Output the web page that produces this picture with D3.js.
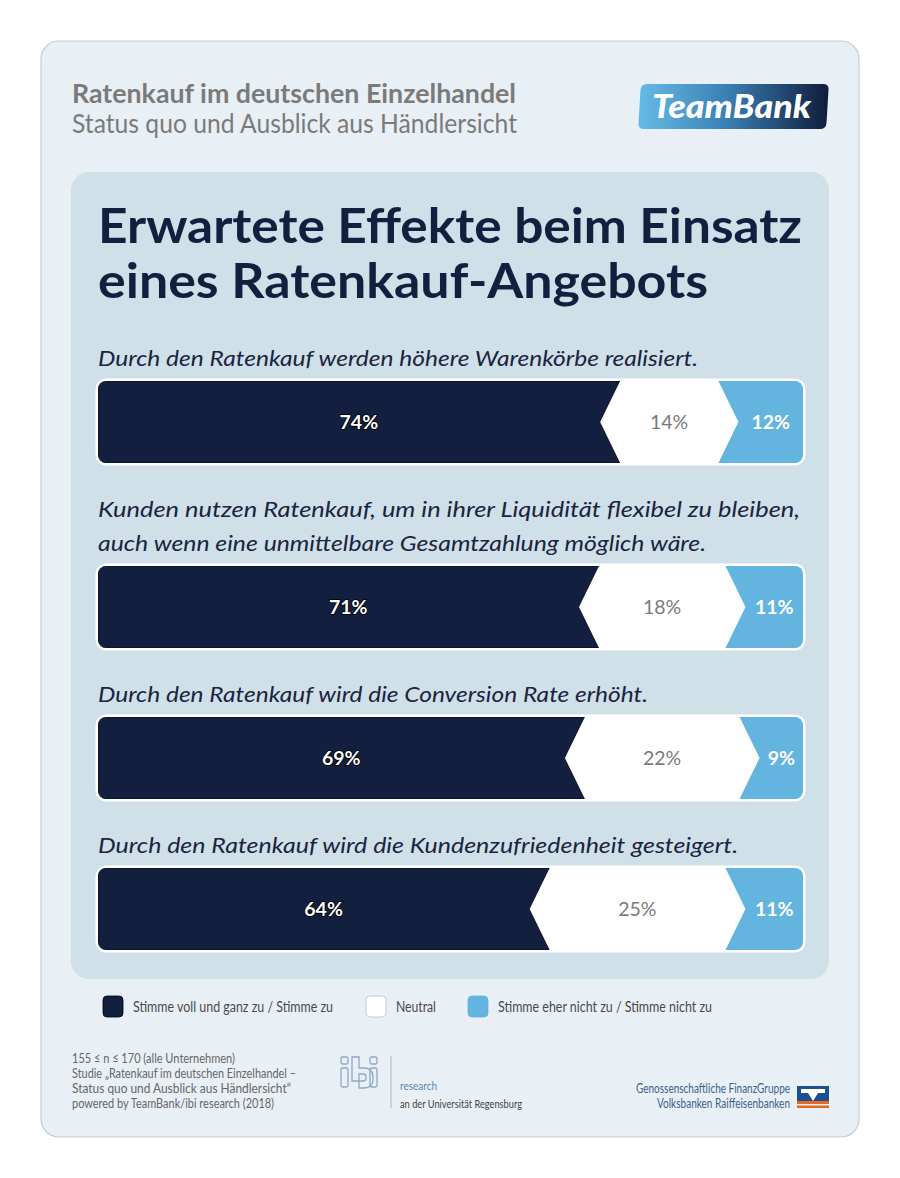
<!DOCTYPE html>
<html>
<head>
<meta charset="utf-8">
<script src="https://cdn.jsdelivr.net/npm/d3@7"></script>
<style>
  body { margin: 0; background: #fff; }
  svg { display: block; }
</style>
</head>
<body>
<div id="chart"></div>
<script>
// Werte aus der Grafik (Prozent)
const questions = [
  ["Durch den Ratenkauf werden höhere Warenkörbe realisiert."],
  ["Kunden nutzen Ratenkauf, um in ihrer Liquidität flexibel zu bleiben,",
   "auch wenn eine unmittelbare Gesamtzahlung möglich wäre."],
  ["Durch den Ratenkauf wird die Conversion Rate erhöht."],
  ["Durch den Ratenkauf wird die Kundenzufriedenheit gesteigert."]
];
const agree = [74, 71, 69, 64];
const neutral = [14, 18, 22, 25];
const disagree = [12, 11, 9, 11];

const legendLabels = ["Stimme voll und ganz zu / Stimme zu", "Neutral", "Stimme eher nicht zu / Stimme nicht zu"];
const titleLines = ["Erwartete Effekte beim Einsatz", "eines Ratenkauf-Angebots"];
const footLines = [
  "155 ≤ n ≤ 170 (alle Unternehmen)",
  "Studie „Ratenkauf im deutschen Einzelhandel –",
  "Status quo und Ausblick aus Händlersicht“",
  "powered by TeamBank/ibi research (2018)"
];

const W = 900, H = 1178;
const navy = "#121f3e", sky = "#63b4df", greyTxt = "#7a7a7a";
const font = "Lato, 'Open Sans', sans-serif";

const svg = d3.select("#chart").append("svg").attr("width", W).attr("height", H);
const defs = svg.append("defs");

// helper: text squeezed to a target width (original uses a condensed face)
function fit(sel, w) {
  sel.each(function () {
    const len = this.getComputedTextLength();
    if (Math.abs(len - w) > 2) {
      d3.select(this).attr("textLength", w).attr("lengthAdjust", "spacingAndGlyphs");
    }
  });
  return sel;
}

// outer card + inner panel
svg.append("rect").attr("x", 41).attr("y", 41).attr("width", 818).attr("height", 1096)
  .attr("rx", 18).attr("fill", "#e9f0f5").attr("stroke", "#c3ced6").attr("stroke-width", 1.2);
svg.append("rect").attr("x", 71).attr("y", 172).attr("width", 758).attr("height", 807)
  .attr("rx", 18).attr("fill", "#cfe0e8");

// header
fit(svg.append("text").attr("x", 72).attr("y", 103).attr("font-family", font)
  .attr("font-weight", 700).attr("font-size", 26.5).attr("fill", greyTxt)
  .text("Ratenkauf im deutschen Einzelhandel"), 444);
fit(svg.append("text").attr("x", 72).attr("y", 133).attr("font-family", font)
  .attr("font-weight", 400).attr("font-size", 26.5).attr("fill", greyTxt)
  .text("Status quo und Ausblick aus Händlersicht"), 445);

// TeamBank logo
const lg = defs.append("linearGradient").attr("id", "tbGrad").attr("x1", "0").attr("x2", "1").attr("y1", "0").attr("y2", "0");
lg.append("stop").attr("offset", "0").attr("stop-color", "#66bbe6");
lg.append("stop").attr("offset", "0.45").attr("stop-color", "#3b82b6");
lg.append("stop").attr("offset", "1").attr("stop-color", "#0f1c3d");
svg.append("path")
  .attr("d", "M647,84 L823,84 Q829,84 828.5,90 L826.5,123 Q826,129 820,129 L644,129 Q638,129 638.5,123 L640.5,90 Q641,84 647,84 Z")
  .attr("fill", "url(#tbGrad)");
fit(svg.append("text").attr("x", 652).attr("y", 118).attr("font-family", font)
  .attr("font-weight", 900).attr("font-style", "italic").attr("font-size", 32).attr("fill", "#fff")
  .text("TeamBank"), 159);

// big title
const titleW = [704, 610];
titleLines.forEach((t, i) => {
  fit(svg.append("text").attr("x", 98).attr("y", 243 + i * 55).attr("font-family", font)
    .attr("font-weight", 700).attr("font-size", 47).attr("fill", navy).text(t), titleW[i]);
});

// bars
const x = d3.scaleLinear().domain([0, 100]).range([98, 803]);
const barH = 82, notch = 20;
const qWidths = [[600], [702, 608], [550], [640]];

let base = 366;
questions.forEach((lines, i) => {
  lines.forEach((ln, j) => {
    fit(svg.append("text").attr("x", 98).attr("y", base + j * 34).attr("font-family", font)
      .attr("font-style", "italic").attr("font-size", 22).attr("fill", "#1b2440").text(ln), qWidths[i][j]);
  });
  base += (lines.length - 1) * 34;
  const top = base + 15, bot = top + barH, mid = top + barH / 2;
  const g = svg.append("g");

  defs.append("clipPath").attr("id", "clip" + i).append("rect")
    .attr("x", x(0)).attr("y", top).attr("width", x(100) - x(0)).attr("height", barH).attr("rx", 8);

  g.append("rect").attr("x", x(0)).attr("y", top).attr("width", x(100) - x(0)).attr("height", barH)
    .attr("rx", 8).attr("fill", "#fff").attr("stroke", "#fff").attr("stroke-width", 5);

  const xa = x(agree[i]), xb = x(100 - disagree[i]);
  const seg = g.append("g").attr("clip-path", `url(#clip${i})`);
  seg.append("polygon")
    .attr("points", [[x(0), top], [xa, top], [xa - notch, mid], [xa, bot], [x(0), bot]].join(" "))
    .attr("fill", navy).attr("stroke", "#05091a").attr("stroke-width", 0.8);
  seg.append("polygon")
    .attr("points", [[xb, top], [x(100), top], [x(100), bot], [xb, bot], [xb + notch, mid]].join(" "))
    .attr("fill", sky);

  const lbl = (cx, v, fill, weight) => g.append("text").attr("x", cx).attr("y", mid + 7)
    .attr("text-anchor", "middle").attr("font-family", font).attr("font-size", 19.5)
    .attr("font-weight", weight).attr("fill", fill).text(v + "%");
  lbl((x(0) + xa) / 2, agree[i], "#fff", 700)
    .attr("stroke", "#000").attr("stroke-width", 1.6).attr("paint-order", "stroke");
  lbl((xa + xb) / 2, neutral[i], greyTxt, 400);
  lbl((xb + notch + x(100)) / 2, disagree[i], "#fff", 700);

  base = bot + 54;
});

// legend
const legX = [103, 366, 468];
const legFill = [navy, "#fff", sky];
const legStroke = ["#000", "#b9c3ca", "#63b4df"];
const legW = [200, 40, 214];
legendLabels.forEach((t, i) => {
  svg.append("rect").attr("x", legX[i]).attr("y", 996).attr("width", 20).attr("height", 21).attr("rx", 4)
    .attr("fill", legFill[i]).attr("stroke", legStroke[i]).attr("stroke-width", 0.8);
  fit(svg.append("text").attr("x", legX[i] + 30).attr("y", 1012).attr("font-family", font)
    .attr("font-size", 14.5).attr("fill", "#4a4a4a").text(t), legW[i]);
});

// footer text
const footW = [163, 224, 219, 202];
footLines.forEach((t, i) => {
  fit(svg.append("text").attr("x", 72).attr("y", 1063 + i * 15).attr("font-family", font)
    .attr("font-size", 12.5).attr("fill", "#666").text(t), footW[i]);
});

// ibi research logo
const ibi = svg.append("g").attr("fill", "none").attr("stroke", "#8ea7c3").attr("stroke-width", 1.3);
ibi.append("rect").attr("x", 341).attr("y", 1057).attr("width", 7).attr("height", 7).attr("rx", 1.5);
ibi.append("rect").attr("x", 341).attr("y", 1068).attr("width", 7).attr("height", 19).attr("rx", 1.5);
ibi.append("path").attr("d", "M352,1057 h7 v11 h5 q9,0 9,9 v2 q0,9 -9,9 h-5 v-7 h4 q3,0 3,-3 v-1 q0,-3 -3,-3 h-4 v7 h-7 z");
ibi.append("rect").attr("x", 370).attr("y", 1057).attr("width", 7).attr("height", 7).attr("rx", 1.5);
ibi.append("rect").attr("x", 370).attr("y", 1068).attr("width", 7).attr("height", 19).attr("rx", 1.5);
svg.append("line").attr("x1", 391).attr("x2", 391).attr("y1", 1056).attr("y2", 1108)
  .attr("stroke", "#a9b7c4").attr("stroke-width", 1);
fit(svg.append("text").attr("x", 400).attr("y", 1090).attr("font-family", font).attr("font-size", 12)
  .attr("fill", "#5b86b3").text("research"), 37);
fit(svg.append("text").attr("x", 400).attr("y", 1108).attr("font-family", font).attr("font-size", 12)
  .attr("fill", "#444").text("an der Universität Regensburg"), 122);

// Volksbanken Raiffeisenbanken
fit(svg.append("text").attr("x", 790).attr("y", 1093).attr("text-anchor", "end").attr("font-family", font)
  .attr("font-size", 12.5).attr("fill", "#3c5f8e").text("Genossenschaftliche FinanzGruppe"), 154);
fit(svg.append("text").attr("x", 790).attr("y", 1108).attr("text-anchor", "end").attr("font-family", font)
  .attr("font-size", 12.5).attr("fill", "#3c5f8e").text("Volksbanken Raiffeisenbanken"), 133);
svg.append("rect").attr("x", 797).attr("y", 1086).attr("width", 32).attr("height", 15).attr("fill", "#1f4f93");
svg.append("path").attr("d", "M801,1089 h24 v4 h-7 l-5,8 l-5,-8 h-7 z").attr("fill", "#fff");
svg.append("rect").attr("x", 797).attr("y", 1101).attr("width", 32).attr("height", 3).attr("fill", "#e2691f");
svg.append("rect").attr("x", 797).attr("y", 1105.5).attr("width", 32).attr("height", 2.5).attr("fill", "#e2691f");
</script>
</body>
</html>
